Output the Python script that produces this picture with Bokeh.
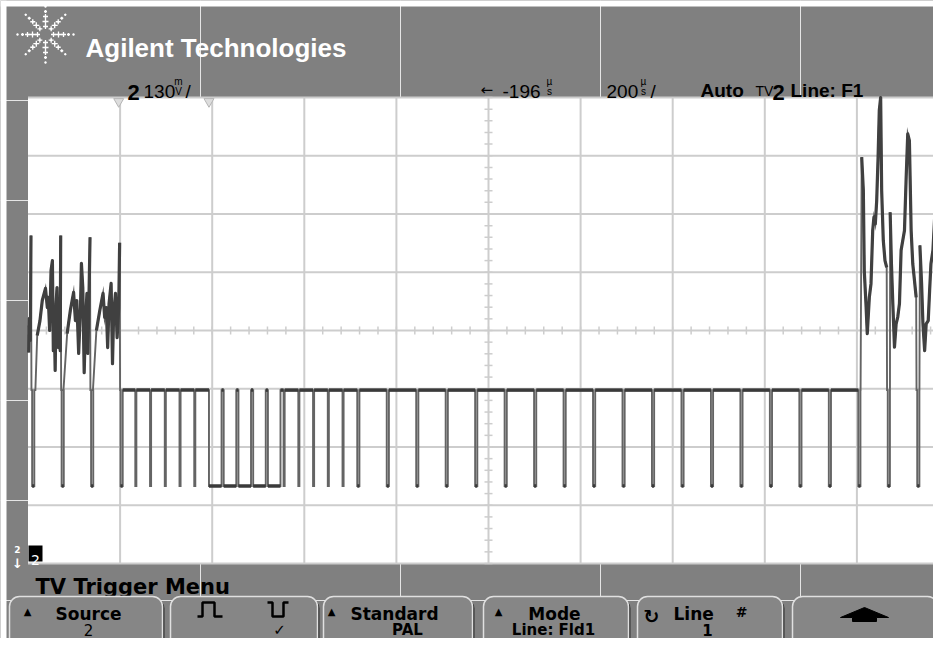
import math
from bokeh.plotting import figure
from bokeh.models import Range1d
from bokeh.core.properties import value
from bokeh.embed import file_html
from bokeh.resources import INLINE

# ---------------- scope settings (status line) ----------------
T_CENTER = -196.0      # µs, delay shown as "← -196µs"
T_PER_DIV = 200.0      # µs / div
V_PER_DIV = 130.0      # mV / div
N_DIV_X = 10
N_DIV_Y = 8

# ---------------- waveform data: time in µs, level in mV ----------------
BLANK_MV = -133
SYNC_MV = -347

LINE_SYNC_US = [-1187, -1123, -1059, -995,
                -481, -417, -353, -289, -225, -161, -97, -33, 31, 95,
                159, 223, 287, 351, 415, 479, 543, 607, 671, 735]
LINE_SYNC_W = 4.7
EQ_PULSE_US = [-963, -931, -899, -867, -835, -641, -609, -577, -545, -513]
EQ_PULSE_W = 2.35
BROAD_PULSE_US = [-803, -771, -739, -707, -675]
BROAD_PULSE_W = 27.3

# active video between line syncs
VID0_US = [-1196, -1194.5, -1193, -1191, -1189.5, -1188.5]
VID0_MV = [11, -49, 27, -22, 212, BLANK_MV]
VID1_US = [-1180, -1176, -1170, -1165, -1158, -1154, -1152, -1149, -1146, -1143,
           -1141, -1139, -1137, -1135, -1133, -1130, -1128, -1126, -1125, -1124]
VID1_MV = [BLANK_MV, -11, 22, 67, 94, 51, 74, 0, 134, 156,
           -45, 22, -89, 60, 96, -38, 51, -45, 212, BLANK_MV]
VID2_US = [-1119, -1111, -1104, -1097, -1093, -1090, -1086, -1082, -1080, -1077,
           -1074, -1071, -1068, -1066, -1064, -1061.3, -1060.5]
VID2_MV = [BLANK_MV, -7, 45, 85, 22, 67, -51, 51, 150, 96,
           -94, 22, 83, -51, 51, 208, BLANK_MV]
VID3_US = [-1055, -1047.5, -1040, -1033, -1029.5, -1026, -1023, -1020, -1015.5,
           -1012.5, -1010, -1006, -1002.5, -999, -997, -996]
VID3_MV = [BLANK_MV, 0, 45, 83, 29, 51, -38, 60, 105,
           -74, 38, 83, -16, 51, 196, BLANK_MV]
VID4_US = [612, 614.4, 618, 620, 624, 626.5, 631, 634.6, 638.3, 641, 644, 647,
           650, 652.6, 655.6, 657.8, 661.3, 665, 668.7, 669.5]
VID4_MV = [BLANK_MV, 387, 312, 134, 52, -7, 74, 104, 223, 253, 238, 290,
           387, 491, 520, 312, 201, 156, 141, BLANK_MV]
VID5_US = [675.8, 676.2, 679, 682, 685.6, 689.2, 692.7, 696.4, 700, 703.6, 707.3,
           711, 714.4, 718, 721.8, 725.3, 729, 732.7, 733.5]
VID5_MV = [BLANK_MV, 264, 149, 60, -37, 15, 30, 60, 179, 201, 223,
           342, 439, 424, 223, 149, 112, 74, BLANK_MV]
VID6_US = [739.8, 740.8, 744.5, 747.4, 751.1, 754.5, 758.9, 761.9, 764.8, 769.1,
           772.9, 776.4, 780.6, 784.3, 793]
VID6_MV = [BLANK_MV, 190, 104, 15, -45, 15, 22, 89, 149, 179,
           253, 312, 402, 409, 424]

MARKER_US = [-999, -803]          # small markers below the header

# ---------------- page layout (pixels, 1:1 with the reference) ----------------
W, H = 933, 638
PX0, PX1, PY0, PY1 = 0, W, 0, H
GRID_LEFT_PX, GRID_DX_PX = 27.5, 92.1
GRID_TOP_PX, GRID_DY_PX = 97.0, 58.25

BG = "#808080"
BTN_FILL = "#868686"
GRID_COL = "#cdcdcd"
TRACE_COL = "#646464"
BAND_COL = "#3a3a3a"
VIDEO_COL = "#404040"

t_left = T_CENTER - N_DIV_X / 2 * T_PER_DIV
t_right = T_CENTER + N_DIV_X / 2 * T_PER_DIV
v_top = N_DIV_Y / 2 * V_PER_DIV
v_bot = -v_top

t0 = t_left + (PX0 - GRID_LEFT_PX) / GRID_DX_PX * T_PER_DIV
t1 = t_left + (PX1 - GRID_LEFT_PX) / GRID_DX_PX * T_PER_DIV
v0 = v_top - (PY1 - GRID_TOP_PX) / GRID_DY_PX * V_PER_DIV
v1 = v_top + (GRID_TOP_PX - PY0) / GRID_DY_PX * V_PER_DIV

p = figure(width=W, height=H, x_range=Range1d(PX0, PX1), y_range=Range1d(PY1, PY0),
           output_backend="svg", toolbar_location=None, min_border=0,
           x_axis_location=None, y_axis_location=None)
p.outline_line_color = None
p.background_fill_color = BG
p.border_fill_color = BG
p.extra_x_ranges = {"t": Range1d(t0, t1)}
p.extra_y_ranges = {"v": Range1d(v0, v1)}
TV = dict(x_range_name="t", y_range_name="v")

# white frame of the screenshot
p.quad(left=[0, 0], right=[W, 6], top=[0, 0], bottom=[6, H], fill_color="white", line_color=None)

# screen
p.quad(left=[t_left], right=[t_right], bottom=[v_bot], top=[v_top],
       fill_color="white", line_color=None, **TV)

# graticule
grid_t = [t_left + k * T_PER_DIV for k in range(1, N_DIV_X + 1)]
grid_v = [v_bot + k * V_PER_DIV for k in range(N_DIV_Y + 1)]
p.multi_line(xs=[[t, t] for t in grid_t], ys=[[v_bot, v_top]] * len(grid_t),
             line_color=GRID_COL, line_width=2, **TV)
p.multi_line(xs=[[t_left, t_right]] * len(grid_v), ys=[[v, v] for v in grid_v],
             line_color=GRID_COL, line_width=2, **TV)
minor_t = [t_left + k * T_PER_DIV / 5 for k in range(N_DIV_X * 5 + 1)]
minor_v = [v_bot + k * V_PER_DIV / 5 for k in range(N_DIV_Y * 5 + 1)]
tick_v = 4 / GRID_DY_PX * V_PER_DIV
tick_t = 4 / GRID_DX_PX * T_PER_DIV
p.multi_line(xs=[[t, t] for t in minor_t], ys=[[-tick_v, tick_v]] * len(minor_t),
             line_color=GRID_COL, line_width=1.5, **TV)
p.multi_line(xs=[[T_CENTER - tick_t, T_CENTER + tick_t]] * len(minor_v),
             ys=[[v, v] for v in minor_v], line_color=GRID_COL, line_width=1.5, **TV)

# waveform
pieces = []
for ts in LINE_SYNC_US:
    pieces.append([(ts, BLANK_MV), (ts, SYNC_MV), (ts + LINE_SYNC_W, SYNC_MV), (ts + LINE_SYNC_W, BLANK_MV)])
for ts in EQ_PULSE_US:
    pieces.append([(ts, BLANK_MV), (ts, SYNC_MV), (ts + EQ_PULSE_W, SYNC_MV), (ts + EQ_PULSE_W, BLANK_MV)])
for ts in BROAD_PULSE_US:
    pieces.append([(ts, BLANK_MV), (ts, SYNC_MV), (ts + BROAD_PULSE_W, SYNC_MV), (ts + BROAD_PULSE_W, BLANK_MV)])
video = [(VID0_US, VID0_MV), (VID1_US, VID1_MV), (VID2_US, VID2_MV), (VID3_US, VID3_MV),
         (VID4_US, VID4_MV), (VID5_US, VID5_MV), (VID6_US, VID6_MV)]
for us, mv in video:
    pieces.append(list(zip(us, mv)))
pieces.sort(key=lambda pc: pc[0][0])
path = [pt for pc in pieces for pt in pc]
p.line([a for a, b in path], [b for a, b in path], line_color=TRACE_COL, line_width=1.9,
       line_join="miter", **TV)

# flat (blanking / broad-pulse) stretches look denser on the scope
band_x, band_y = [], []
for (ta, va), (tb, vb) in zip(path[:-1], path[1:]):
    if va == vb and va in (BLANK_MV, SYNC_MV) and tb - ta > 3:
        band_x.append([ta, tb])
        band_y.append([va, vb])
p.multi_line(xs=band_x, ys=band_y, line_color=BAND_COL, line_width=3.5, **TV)
# video content drawn heavier
p.multi_line(xs=[us[1:-1] for us, mv in video], ys=[mv[1:-1] for us, mv in video],
             line_color=VIDEO_COL, line_width=3.2, line_join="round", **TV)

# markers under header
p.scatter(x=MARKER_US, y=[101, 101], marker="inverted_triangle", size=10,
          fill_color="#dddddd", line_color="#b5b5b5", x_range_name="t")

# ---------------- header ----------------
LOGO_CX, LOGO_CY = 45, 34
LOGO_ANGLES = [0, 45, 90, 135, 180, 225, 270, 315]
LOGO_R = [8, 13, 18, 23, 28]
LOGO_SIZE = [5, 6, 5, 3, 2]
lx, ly, ls = [], [], []
for a in LOGO_ANGLES:
    for r, s in zip(LOGO_R, LOGO_SIZE):
        lx.append(LOGO_CX + r * math.cos(math.radians(a)))
        ly.append(LOGO_CY + r * math.sin(math.radians(a)))
        ls.append(s)
p.scatter(x=lx, y=ly, size=ls, marker="cross", line_color="white", line_width=1.3)
p.scatter(x=lx, y=ly, size=2, marker="circle", fill_color="white", line_color=None)


def txt(x, y, s, size, color="black", font="DejaVu Sans", style="bold", align="left"):
    p.text(x=[x], y=[y], text=[s], text_font=value(font), text_font_size=f"{size}px",
           text_font_style=style, text_color=color, text_align=align,
           text_baseline="alphabetic")


txt(85, 47, "Agilent Technologies", 26, "white", "Liberation Sans", "bold")

SF = "Liberation Sans"
txt(127, 92, "2", 22, "black", SF, "bold")
txt(143, 91, "130", 19, "black", SF, "normal")
txt(178, 81, "m", 10, "black", SF, "normal", "center")
txt(178, 91, "V", 10, "black", SF, "normal", "center")
txt(185, 91, "/", 19, "black", SF, "normal")
txt(480, 89, "←", 15, "black", "DejaVu Sans", "normal")
txt(502, 91, "-196", 19, "black", SF, "normal")
txt(549, 81, "µ", 10, "black", SF, "normal", "center")
txt(549, 91, "s", 10, "black", SF, "normal", "center")
txt(606, 91, "200", 19, "black", SF, "normal")
txt(643, 81, "µ", 10, "black", SF, "normal", "center")
txt(643, 91, "s", 10, "black", SF, "normal", "center")
txt(650, 91, "/", 19, "black", SF, "normal")
txt(700, 90, "Auto", 19, "black", SF, "bold")
txt(755, 90, "TV", 14, "black", SF, "normal")
txt(772, 92, "2", 22, "black", SF, "bold")
txt(790, 90, "Line: F1", 19, "black", SF, "bold")

# ground marker
p.quad(left=[28], right=[42], top=[545], bottom=[561], fill_color="black", line_color=None)
txt(35, 559, "2", 14, "white", "DejaVu Sans", "normal", "center")
txt(17, 549, "2", 9, "white", "DejaVu Sans", "bold", "center")
txt(17, 563, "↓", 13, "white", "DejaVu Sans", "bold", "center")

# ---------------- footer ----------------
txt(35, 586, "TV Trigger Menu", 21, "black", "DejaVu Sans", "bold")

BTN_L = [9, 170, 323, 483, 637, 792]
BTN_R = [162, 317, 472, 628, 782, 937]
p.quad(left=[l + 2 for l in BTN_L], right=[r + 2 for r in BTN_R], top=[598] * 6,
       bottom=[662] * 6, fill_color="#2e2e2e", line_color=None, border_radius=10)
p.quad(left=BTN_L, right=BTN_R, top=[596] * 6, bottom=[660] * 6, fill_color=BTN_FILL,
       line_color="#e0e0e0", line_width=1.5, border_radius=10)

BF = "DejaVu Sans"
R1, R2 = 613, 629
FS1, FS2 = 17, 15
txt(27, 611, "▲", 10, "black", BF, "normal", "center")
txt(88, R1, "Source", FS1, "black", BF, "bold", "center")
txt(88, R2, "2", FS2, "black", BF, "normal", "center")

p.line(x=[197, 202, 202, 214, 214, 222], y=[616, 616, 602, 602, 616, 616], line_color="black", line_width=2.5)
p.line(x=[267, 272, 272, 283, 283, 288], y=[602, 602, 616, 616, 602, 602], line_color="black", line_width=2.5)
txt(279, R2, "✓", FS2, "black", BF, "bold", "center")

txt(331, 611, "▲", 10, "black", BF, "normal", "center")
txt(394, R1, "Standard", FS1, "black", BF, "bold", "center")
txt(407, R2, "PAL", FS2, "black", BF, "bold", "center")

txt(498, 611, "▲", 10, "black", BF, "normal", "center")
txt(554, R1, "Mode", FS1, "black", BF, "bold", "center")
txt(553, R2, "Line: Fld1", FS2, "black", BF, "bold", "center")

txt(651, 615, "↻", 19, "black", BF, "bold", "center")
txt(673, R1, "Line", FS1, "black", BF, "bold")
txt(741, 611, "#", 14, "black", BF, "bold", "center")
txt(707, R2, "1", FS2, "black", BF, "bold", "center")

p.patch(x=[864, 888, 876, 876, 852, 852, 840], y=[607, 617, 617, 621, 621, 617, 617], fill_color="black", line_color="black")

open("out.html", "w").write(file_html(p, INLINE))
